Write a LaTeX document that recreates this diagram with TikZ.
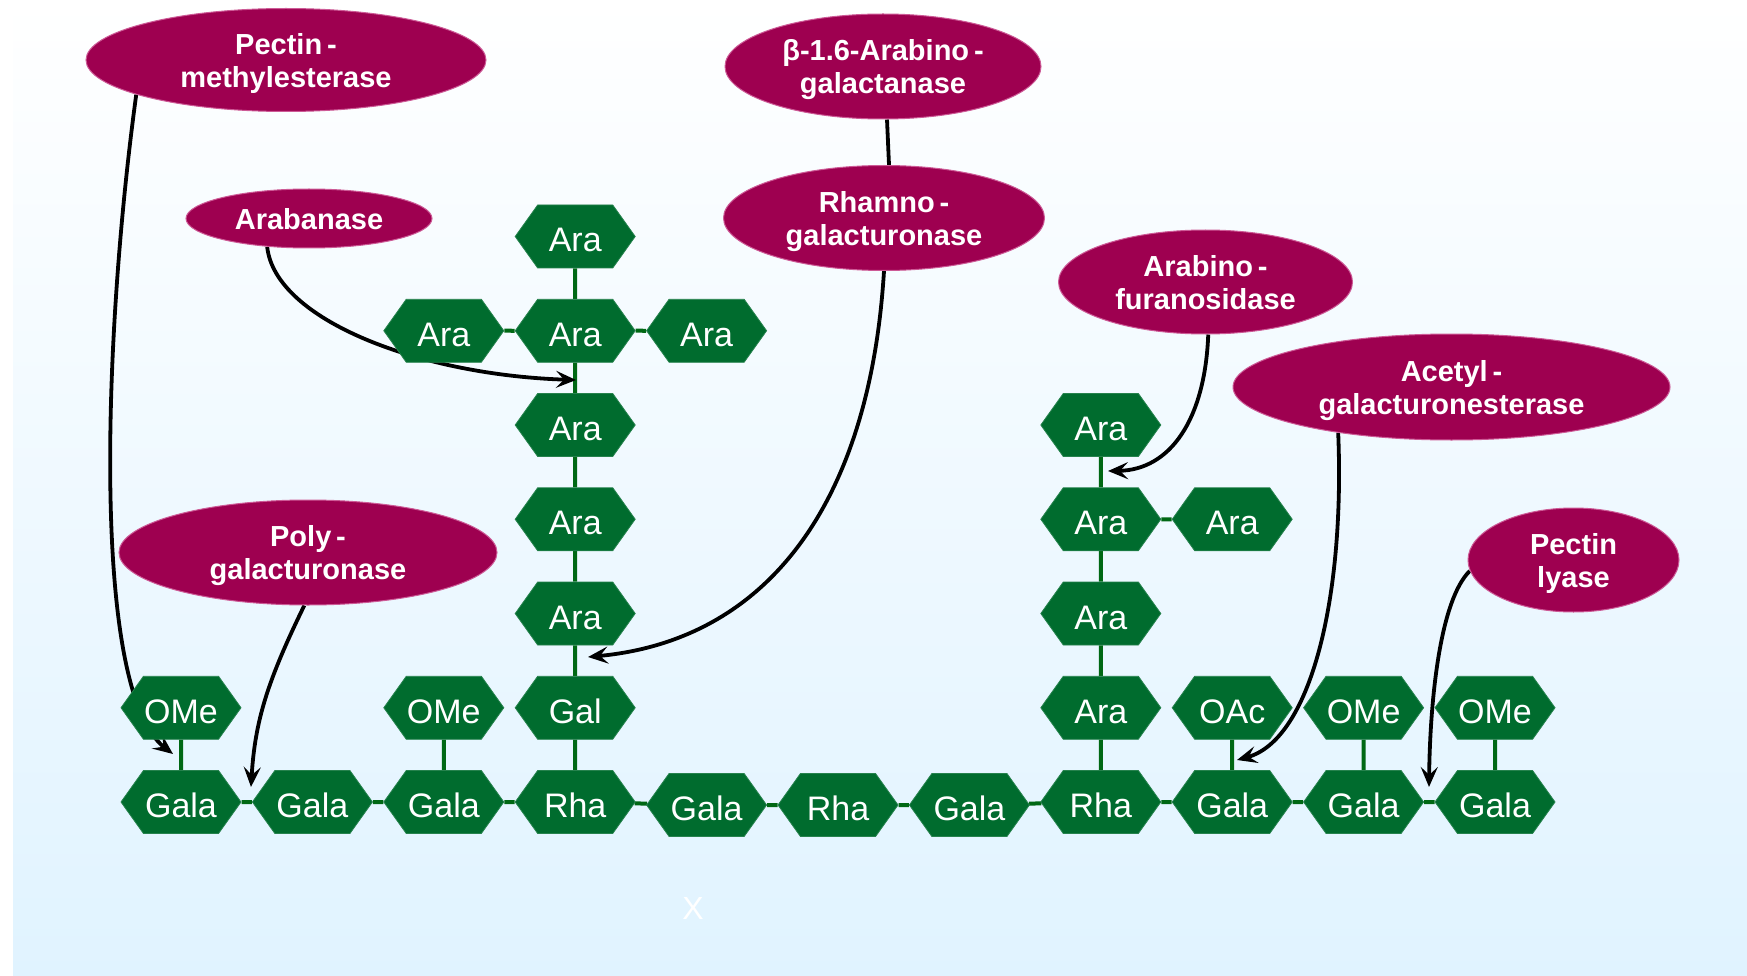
\documentclass[tikz,border=0pt]{standalone}
\usepackage{fontspec}
\setmainfont{Liberation Sans}
\usetikzlibrary{shapes.symbols,shapes.geometric,arrows.meta}
\definecolor{hexgreen}{RGB}{0,108,46}
\definecolor{linkgreen}{RGB}{0,104,20}
\definecolor{enzfill}{RGB}{158,0,80}
\definecolor{enzedge}{RGB}{205,90,150}
\definecolor{bgblue}{RGB}{224,243,255}
\pgfdeclarelayer{bg}
\pgfdeclarelayer{arr}
\pgfsetlayers{bg,arr,main}
\tikzset{
  sugar/.style={shape=signal, signal to=east and west, signal pointer angle=109,
    fill=hexgreen, draw=hexgreen!85!white, line width=0.8pt, text=white,
    minimum width=120pt, minimum height=63pt, inner sep=0pt,
    text height=31pt, text depth=0pt,
    font=\fontsize{34}{40}\selectfont},
  enzyme/.style={ellipse, fill=enzfill, draw=enzedge, line width=1pt, text=white,
    inner sep=0pt, align=center, text depth=0pt,
    font=\fontsize{29}{33}\selectfont\bfseries},
  link/.style={draw=linkgreen, line width=4pt},
  act/.style={draw=black, line width=3.8pt, -{Stealth[length=20pt,width=17pt,inset=8pt]}},
  plain/.style={draw=black, line width=3.8pt},
}
\begin{document}
\begin{tikzpicture}[x=1pt,y=-1pt]
\useasboundingbox (0,0) rectangle (1747,976);
\begin{pgfonlayer}{bg}
  \fill[white] (0,0) rectangle (1747,976);
  \shade[top color=white, bottom color=bgblue] (13,0) rectangle (1747,976);
\end{pgfonlayer}

% ---- sugar residues ----
% bottom backbone
\node[sugar] (g0)  at (181,802)    {Gala};
\node[sugar] (g1)  at (312.4,802)  {Gala};
\node[sugar] (g2)  at (443.8,802)  {Gala};
\node[sugar] (r3)  at (575.2,802)  {Rha};
\node[sugar] (g4)  at (706.6,805)  {Gala};
\node[sugar] (r5)  at (838,805)    {Rha};
\node[sugar] (g6)  at (969.4,805)  {Gala};
\node[sugar] (r7)  at (1100.8,802) {Rha};
\node[sugar] (g8)  at (1232.2,802) {Gala};
\node[sugar] (g9)  at (1363.6,802) {Gala};
\node[sugar] (g10) at (1495,802)   {Gala};
% first substituent row
\node[sugar] (ome0)  at (181,707.75)    {OMe};
\node[sugar] (ome2)  at (443.8,707.75)  {OMe};
\node[sugar] (gal3)  at (575.2,707.75)  {Gal};
\node[sugar] (a71)   at (1100.8,707.75) {Ara};
\node[sugar] (oac8)  at (1232.2,707.75) {OAc};
\node[sugar] (ome9)  at (1363.6,707.75) {OMe};
\node[sugar] (ome10) at (1495,707.75)   {OMe};
% arabinan side chain on Rha 3
\node[sugar] (a32) at (575.2,613.5)  {Ara};
\node[sugar] (a33) at (575.2,519.25) {Ara};
\node[sugar] (a34) at (575.2,425)    {Ara};
\node[sugar] (a35) at (575.2,330.75) {Ara};
\node[sugar] (a36) at (575.2,236.5)  {Ara};
\node[sugar] (a25) at (443.8,330.75) {Ara};
\node[sugar] (a45) at (706.6,330.75) {Ara};
% arabinan side chain on Rha 7
\node[sugar] (a72) at (1100.8,613.5)  {Ara};
\node[sugar] (a73) at (1100.8,519.25) {Ara};
\node[sugar] (a74) at (1100.8,425)    {Ara};
\node[sugar] (a83) at (1232.2,519.25) {Ara};

% ---- enzymes ----
\node[enzyme, minimum width=400pt, minimum height=103pt] (pme) at (286,60) {Pectin\,-\\methylesterase};
\node[enzyme, minimum width=316pt, minimum height=105pt] (ba) at (883,66.5) {β-1.6-Arabino\,-\\galactanase};
\node[enzyme, minimum width=321pt, minimum height=105pt] (rg) at (884,218) {Rhamno\,-\\galacturonase};
\node[enzyme, minimum width=246pt, minimum height=59pt] (ar) at (309,218.5) {Arabanase};
\node[enzyme, minimum width=294pt, minimum height=104pt] (af) at (1205.5,282) {Arabino\,-\\furanosidase};
\node[enzyme, minimum width=437pt, minimum height=106pt] (ag) at (1451.5,387) {Acetyl\,-\\galacturonesterase};
\node[enzyme, minimum width=211pt, minimum height=104pt] (pl) at (1573.5,560) {Pectin\\lyase};
\node[enzyme, minimum width=378pt, minimum height=105pt] (pg) at (308,552.5) {Poly\,-\\galacturonase};

\node[text=white, font=\fontsize{32}{36}\selectfont] (xmark) at (693,908) {X};

% ---- arrow targets ----
\coordinate (t1) at (173,754);
\coordinate (t2) at (251,787);
\coordinate (t3) at (576,380);
\coordinate (t4) at (588,657);
\coordinate (t5) at (1108,471);
\coordinate (t6) at (1237,760);
\coordinate (t7) at (1429,787);

\begin{pgfonlayer}{arr}
  % glycosidic links
  \draw[link] (g0) -- (g1) -- (g2) -- (r3) -- (g4) -- (r5) -- (g6) -- (r7) -- (g8) -- (g9) -- (g10);
  \draw[link] (ome0) -- (g0);
  \draw[link] (ome2) -- (g2);
  \draw[link] (a36) -- (a35) -- (a34) -- (a33) -- (a32) -- (gal3) -- (r3);
  \draw[link] (a25) -- (a35) -- (a45);
  \draw[link] (a74) -- (a73) -- (a72) -- (a71) -- (r7);
  \draw[link] (a73) -- (a83);
  \draw[link] (oac8) -- (g8);
  \draw[link] (ome9) -- (g9);
  \draw[link] (ome10) -- (g10);
  % enzyme actions
  \draw[act] (pme.193) .. controls (104,330) and (90,690) .. (t1);
  \draw[act] (pg.266) .. controls (268,680) and (255,720) .. (t2);
  \draw[act] (ar.214) .. controls (275,320) and (420,375) .. (t3);
  \draw[act] (rg.270) .. controls (870,500) and (770,640) .. (t4);
  \draw[act] (af.273) .. controls (1205,420) and (1170,470) .. (t5);
  \draw[act] (ag.202) .. controls (1345,600) and (1310,740) .. (t6);
  \draw[act] (pl.186) .. controls (1440,600) and (1430,700) .. (t7);
  \draw[plain] ([xshift=4pt]ba.south) -- ([xshift=5pt]rg.north);
\end{pgfonlayer}
\end{tikzpicture}
\end{document}
